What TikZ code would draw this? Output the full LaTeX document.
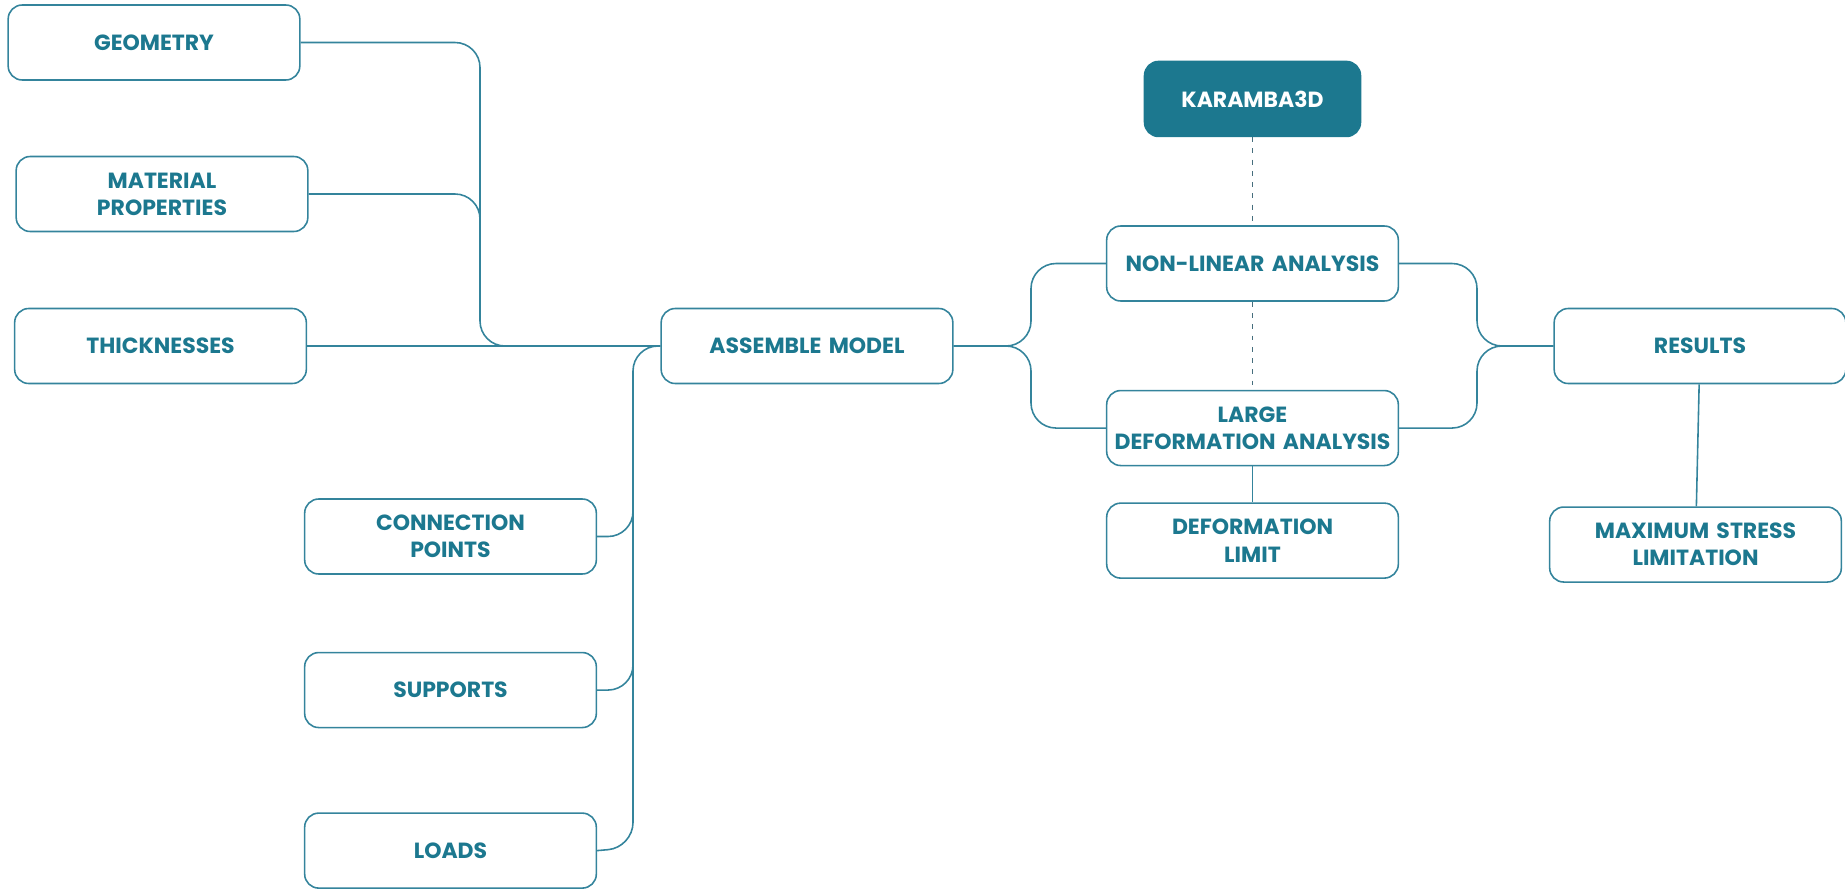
\documentclass[tikz,border=0pt]{standalone}
\usepackage{fontspec}
\setmainfont{Poppins}
\usepackage{tikz}
\usetikzlibrary{positioning,calc}
\definecolor{karteal}{RGB}{28,120,143}
\definecolor{linkteal}{RGB}{52,132,156}
\definecolor{dashgrey}{RGB}{70,110,125}

\begin{document}
\begin{tikzpicture}[x=0.02cm, y=-0.02cm,
  box/.style={rectangle, rounded corners=8pt, draw=linkteal, line width=0.9pt,
              fill=white, text=karteal, text width=5.6cm, align=center,
              minimum width=5.8cm, minimum height=1.5cm,
              font=\bfseries\fontsize{12.5}{15.5}\selectfont},
  hub/.style={box, fill=karteal, draw=karteal, text=white,
              text width=4cm, minimum width=4.32cm},
  link/.style={draw=linkteal, line width=0.9pt, rounded corners=0.5cm},
  dashlink/.style={draw=dashgrey, line width=0.8pt, dash pattern=on 2.8pt off 3.6pt}
]
  \useasboundingbox (0,0) rectangle (1845,889);

  \node[box] (geom)  at (154,42.5)  {GEOMETRY};
  \node[box] (mat)   at (162,194)   {MATERIAL\\PROPERTIES};
  \node[box] (thick) at (160.5,346) {THICKNESSES};
  \node[box] (asm)   at (807,346)   {ASSEMBLE MODEL};

  \node[box] (conn)  at (450.5,536.5) {CONNECTION\\POINTS};
  \node[box, below=1.54cm of conn]  (supp)  {SUPPORTS};
  \node[box, below=1.68cm of supp]  (loads) {LOADS};

  \node[box] (nonlin) at (1252.5,263.5) {NON-LINEAR ANALYSIS};
  \node[hub, above=1.76cm of nonlin] (kar)    {KARAMBA3D};
  \node[box, below=1.76cm of nonlin] (large)  {LARGE\\DEFORMATION ANALYSIS};
  \node[box, below=0.72cm of large]  (deflim) {DEFORMATION\\LIMIT};

  \node[box] (res) at (1700,346) {RESULTS};
  \node[box, below=2.44cm of res, xshift=-0.09cm] (maxst) {MAXIMUM STRESS\\LIMITATION};

  \coordinate (busA)  at (480,346);
  \coordinate (busAm) at (480,290);
  \coordinate (busB)  at (633,847.5);
  \coordinate (busBm) at (633,420);
  \coordinate (splitL) at (1031,346);
  \coordinate (splitR) at (1477,346);

  \draw[link] (geom.east) -| (busA) -- (asm.west);
  \draw[link] (mat.east) -| (busAm);
  \draw[link] (thick.east) -- (asm.west);

  \draw[link] (asm.west) -| (busB) -- (loads.east);
  \draw[link] (conn.east) -| (busBm);
  \draw[link] (supp.east) -| (busBm);

  \draw[link] (asm.east) -- (splitL) |- (nonlin.west);
  \draw[link] (asm.east) -- (splitL) |- (large.west);
  \draw[link] (nonlin.east) -| (splitR) -- (res.west);
  \draw[link] (large.east) -| (splitR) -- (res.west);

  \draw[dashlink] (kar) -- (nonlin);
  \draw[dashlink] (nonlin) -- (large);
  \draw[link] (large) -- (deflim);
  \draw[link] (res) -- (maxst);
\end{tikzpicture}
\end{document}
